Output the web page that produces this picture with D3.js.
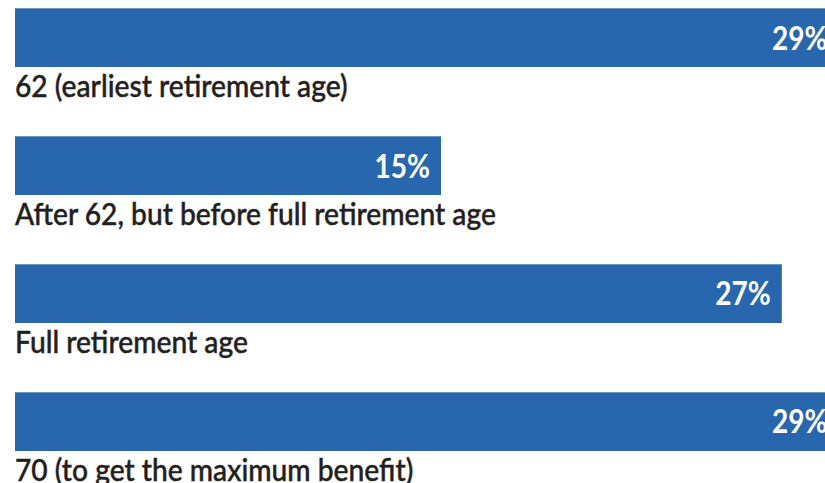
<!DOCTYPE html>
<html>
<head>
<meta charset="utf-8">
<script src="https://cdn.jsdelivr.net/npm/d3@7"></script>
<style>
  html, body { margin: 0; padding: 0; background: #fff; }
  svg { display: block; }
</style>
</head>
<body>
<svg id="chart" width="825" height="483"></svg>
<script>
// Share of respondents by the age they plan to claim Social Security
const categories = [
  "62 (earliest retirement age)",
  "After 62, but before full retirement age",
  "Full retirement age",
  "70 (to get the maximum benefit)"
];
const values = [29, 15, 27, 29];
const valueLabels = ["29%", "15%", "27%", "29%"];

const width = 825, height = 483;
const svg = d3.select("#chart");

const x = d3.scaleLinear().domain([0, 15]).range([15, 441]);
const y = d3.scaleBand()
  .domain(categories)
  .range([8, 451])
  .paddingInner(0.539)
  .paddingOuter(0);

const rows = svg.selectAll("g.row")
  .data(categories.map((c, i) => ({ c, v: values[i], lab: valueLabels[i] })))
  .join("g")
  .attr("class", "row");

rows.append("rect")
  .attr("x", x(0))
  .attr("y", d => y(d.c))
  .attr("width", d => x(d.v) - x(0))
  .attr("height", y.bandwidth())
  .attr("fill", "#2866ad");

// thin lighter rim along the top edge of each bar
rows.append("line")
  .attr("x1", x(0))
  .attr("x2", d => x(d.v))
  .attr("y1", d => y(d.c) + 0.5)
  .attr("y2", d => y(d.c) + 0.5)
  .attr("stroke", "#6f98c8")
  .attr("stroke-width", 1);

rows.append("text")
  .attr("transform", d => `translate(${x(d.v) - 11},${y(d.c) + y.bandwidth() / 2 + 12}) scale(0.85,1)`)
  .attr("text-anchor", "end")
  .attr("font-family", "Lato, sans-serif")
  .attr("font-weight", 700)
  .attr("font-size", 33)
  .attr("fill", "#fff")
  .text(d => d.lab);

rows.append("text")
  .attr("transform", d => `translate(15,${y(d.c) + y.bandwidth() + 30}) scale(0.94,1)`)
  .attr("font-family", "Lato, sans-serif")
  .attr("font-weight", 500)
  .attr("font-size", 30)
  .attr("fill", "#231f20")
  .attr("stroke", "#231f20")
  .attr("stroke-width", 0.45)
  .text(d => d.c);
</script>
</body>
</html>
